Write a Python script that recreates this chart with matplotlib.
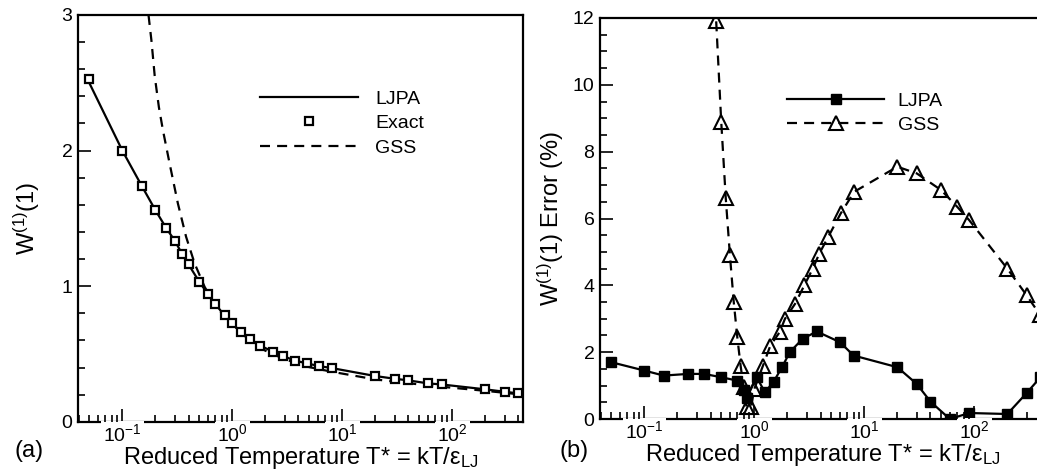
import matplotlib
matplotlib.use('Agg')
import matplotlib.pyplot as plt
from matplotlib.lines import Line2D
from matplotlib.ticker import LogLocator, MultipleLocator

plt.rcParams['font.family'] = ['Liberation Sans', 'DejaVu Sans']
plt.rcParams['mathtext.fontset'] = 'custom'
plt.rcParams['mathtext.rm'] = 'Liberation Sans'
plt.rcParams['mathtext.it'] = 'Liberation Sans:italic'
plt.rcParams['mathtext.bf'] = 'Liberation Sans:bold'
plt.rcParams['axes.unicode_minus'] = False

# (a) W(1)(1) vs reduced temperature
t_exact = [0.05, 0.1, 0.15, 0.2, 0.25, 0.3, 0.35, 0.4, 0.5, 0.6, 0.7, 0.85, 1.0,
           1.2, 1.45, 1.8, 2.35, 2.9, 3.75, 4.8, 6.1, 8.0, 20, 30, 40, 60, 80,
           200, 300, 400]
w_exact = [2.53, 2.00, 1.74, 1.56, 1.43, 1.335, 1.237, 1.16, 1.033, 0.942, 0.868,
           0.784, 0.725, 0.659, 0.607, 0.561, 0.516, 0.484, 0.450, 0.430, 0.411,
           0.396, 0.337, 0.317, 0.305, 0.283, 0.275, 0.239, 0.221, 0.209]
w_ljpa = [2.50, 2.00, 1.74, 1.56, 1.43, 1.335, 1.237, 1.16, 1.033, 0.942, 0.868,
          0.784, 0.725, 0.659, 0.607, 0.561, 0.516, 0.484, 0.450, 0.430, 0.411,
          0.396, 0.337, 0.317, 0.305, 0.283, 0.275, 0.239, 0.221, 0.209]
t_gss_a = [0.173, 0.184, 0.197, 0.215, 0.234, 0.269, 0.32, 0.38, 0.454, 0.56,
           0.71, 0.85, 1.0, 1.5, 2.0, 3.0, 5.0, 8.0, 20, 40, 80, 200, 400]
w_gss = [3.0, 2.81, 2.55, 2.32, 2.15, 1.905, 1.61, 1.364, 1.168, 0.995, 0.85,
         0.78, 0.72, 0.585, 0.524, 0.461, 0.403, 0.369, 0.312, 0.284, 0.258,
         0.228, 0.203]

# (b) error in percent
t_ljpa_b = [0.05, 0.1, 0.15, 0.25, 0.35, 0.5, 0.7, 0.8, 0.85, 1.05, 1.25, 1.5,
            1.8, 2.1, 2.75, 3.7, 6.0, 8.0, 20, 30, 40, 60, 90, 200, 300, 400]
err_ljpa = [1.7, 1.45, 1.3, 1.35, 1.35, 1.25, 1.15, 0.87, 0.62, 1.25, 0.8, 1.12,
            1.57, 2.0, 2.4, 2.62, 2.3, 1.9, 1.55, 1.05, 0.52, 0.0, 0.18, 0.15,
            0.78, 1.25]
t_gss_b = [0.45, 0.5, 0.55, 0.6, 0.65, 0.7, 0.75, 0.8, 0.85, 0.93, 1.0, 1.2, 1.4,
           1.7, 1.9, 2.35, 2.85, 3.4, 3.9, 4.7, 6.1, 8.1, 20, 30, 50, 70, 90, 200,
           300, 400]
err_gss = [11.9, 8.9, 6.6, 4.9, 3.5, 2.45, 1.6, 0.95, 0.35, 0.35, 0.9, 1.6, 2.2,
           2.6, 3.0, 3.45, 4.0, 4.5, 4.95, 5.45, 6.15, 6.8, 7.55, 7.35, 6.85, 6.35,
           5.95, 4.5, 3.7, 3.1]

xlab = 'Reduced Temperature T* = kT/ε$_{\\mathrm{LJ}}$'
fs_tick = 14
fs_leg = 14
fs_lab = 17
dash = (0, (4.5, 3.2))

fig = plt.figure(figsize=(10.37, 4.76), dpi=100)
ax1 = fig.add_axes([0.0752, 0.114, 0.4291, 0.8545])
ax2 = fig.add_axes([0.5786, 0.1197, 0.4291, 0.8425])

ax1.plot(t_exact, w_ljpa, 'k-', lw=1.6)
ax1.plot(t_gss_a, w_gss, color='k', ls=dash, lw=1.6)
ax1.plot(t_exact, w_exact, 's', color='k', mfc='white', mew=1.6, ms=6, ls='none')
ax1.set_ylim(0, 3)
ax1.yaxis.set_major_locator(MultipleLocator(1))
ax1.yaxis.set_minor_locator(MultipleLocator(0.2))
ax1.set_ylabel('W$^{(1)}$(1)', fontsize=fs_lab, labelpad=14)

ax2.plot(t_ljpa_b, err_ljpa, 'k-', marker='s', ms=7.5, lw=1.6)
ax2.plot(t_gss_b, err_gss, color='k', ls=dash, lw=1.6, marker='^', ms=10,
         mfc='none', mew=1.5)
ax2.set_ylim(0, 12)
ax2.yaxis.set_major_locator(MultipleLocator(2))
ax2.yaxis.set_minor_locator(MultipleLocator(0.5))
ax2.set_ylabel('W$^{(1)}$(1) Error (%)', fontsize=fs_lab, labelpad=5)

for ax in (ax1, ax2):
    ax.set_xscale('log')
    ax.set_xlim(0.0395, 440)
    ax.xaxis.set_major_locator(LogLocator(base=10, numticks=10))
    ax.xaxis.set_minor_locator(LogLocator(base=10, subs=range(2, 10), numticks=20))
    ax.tick_params(which='both', direction='in', top=False, right=False,
                   labelsize=fs_tick, width=1.2)
    ax.tick_params(which='major', length=9.5, pad=4)
    ax.tick_params(which='minor', length=5)
    ax.tick_params(axis='x', which='major', pad=1)
    ax.set_axisbelow(False)
    for s in ax.spines.values():
        s.set_linewidth(1.6)
    ax.set_xlabel(xlab, fontsize=fs_lab, labelpad=0)

h1 = [Line2D([], [], color='k', lw=1.6),
      Line2D([], [], color='k', marker='s', ls='none', mfc='white', mew=1.6, ms=6),
      Line2D([], [], color='k', ls=dash, lw=1.6)]
ax1.legend(h1, ['LJPA', 'Exact', 'GSS'], loc='upper left',
           bbox_to_anchor=(0.41, 0.815), frameon=False, fontsize=fs_leg,
           handlelength=5.0, handletextpad=0.9, labelspacing=0.35,
           borderpad=0, borderaxespad=0, numpoints=1)

h2 = [Line2D([], [], color='k', lw=1.6, marker='s', ms=7.5),
      Line2D([], [], color='k', ls=dash, lw=1.6, marker='^', ms=10, mfc='none', mew=1.5)]
ax2.legend(h2, ['LJPA', 'GSS'], loc='upper left',
           bbox_to_anchor=(0.42, 0.815), frameon=False, fontsize=fs_leg,
           handlelength=5.0, handletextpad=0.7, labelspacing=0.35,
           borderpad=0, borderaxespad=0, numpoints=1)

fig.text(0.014, 0.04, '(a)', fontsize=fs_lab)
fig.text(0.540, 0.04, '(b)', fontsize=fs_lab)

# white boxes behind the decade labels, so they break the bottom axis line
fig.canvas.draw()
for ax in (ax1, ax2):
    for lab in ax.get_xticklabels():
        lab.set_bbox(dict(facecolor='white', edgecolor='none', pad=1.5))

fig.savefig('out.png', dpi=100)
